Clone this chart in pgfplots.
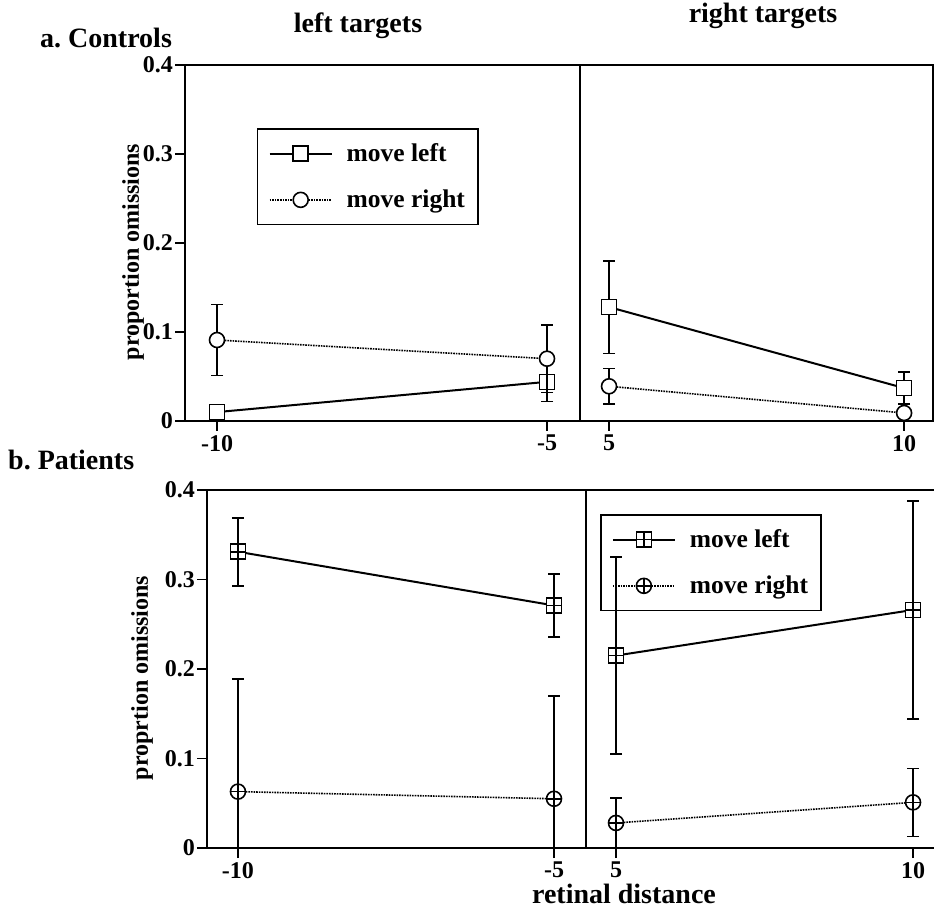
\documentclass[border=0pt]{standalone}
\usepackage{fontspec}
\setmainfont{Liberation Serif}
\usepackage{pgfplots}
\pgfplotsset{compat=1.18}

% boxed plus and circled plus, filled white
\pgfdeclareplotmark{sqplus}{%
  \pgfpathrectangle{\pgfqpoint{-\pgfplotmarksize}{-\pgfplotmarksize}}{\pgfqpoint{2\pgfplotmarksize}{2\pgfplotmarksize}}%
  \pgfusepathqfillstroke
  \pgfpathmoveto{\pgfqpoint{-\pgfplotmarksize}{0pt}}\pgfpathlineto{\pgfqpoint{\pgfplotmarksize}{0pt}}%
  \pgfpathmoveto{\pgfqpoint{0pt}{-\pgfplotmarksize}}\pgfpathlineto{\pgfqpoint{0pt}{\pgfplotmarksize}}%
  \pgfusepathqstroke}
\pgfdeclareplotmark{cplus}{%
  \pgfpathcircle{\pgfpointorigin}{\pgfplotmarksize}%
  \pgfusepathqfillstroke
  \pgfpathmoveto{\pgfqpoint{-\pgfplotmarksize}{0pt}}\pgfpathlineto{\pgfqpoint{\pgfplotmarksize}{0pt}}%
  \pgfpathmoveto{\pgfqpoint{0pt}{-\pgfplotmarksize}}\pgfpathlineto{\pgfqpoint{0pt}{\pgfplotmarksize}}%
  \pgfusepathqstroke}

\newcommand{\tickfont}{\fontsize{24}{28}\selectfont\bfseries}
\newcommand{\labfont}{\fontsize{24}{28}\selectfont\bfseries}
\newcommand{\legfont}{\fontsize{25.5}{28}\selectfont\bfseries}
\newcommand{\titfont}{\fontsize{28}{32}\selectfont\bfseries}

\pgfplotsset{
  panel/.style={
    scale only axis,
    ymin=0, ymax=0.4,
    axis line style={line width=2pt},
    tick style={line width=1.6pt, black},
    tick align=outside,
    major tick length=10pt,
    xtick pos=bottom, ytick pos=left,
    ticklabel style={font=\tickfont},
    xticklabel style={inner sep=4pt},
    yticklabel style={inner sep=2pt},
    clip marker paths=true,
    legend cell align=left,
    legend style={draw=black, fill=none, line width=1.6pt, font=\legfont,
      row sep=23pt, inner xsep=11pt, inner ysep=13pt,
      /tikz/every odd column/.append style={column sep=12pt}},
    legend image code/.code={%
      \draw[##1, mark repeat=2, mark phase=2]
        plot coordinates {(0pt,0pt) (31pt,0pt) (62pt,0pt)};},
  },
  errs/.style={
    error bars/.cd, y dir=both, y explicit,
    error bar style={line width=1.6pt, solid, black},
    error mark options={rotate=90, line width=1.6pt, mark size=6pt, solid, black},
  },
  mleft/.style={black, line width=2pt, mark=square*, mark size=7.5pt,
    mark options={fill=white, solid, line width=1.6pt}, errs},
  mright/.style={black, line width=1.6pt, densely dotted, mark=*, mark size=7.5pt,
    mark options={fill=white, solid, line width=1.6pt}, errs},
  pleft/.style={black, line width=2pt, mark=sqplus, mark size=7.5pt,
    mark options={fill=white, solid, line width=1.6pt}, errs},
  pright/.style={black, line width=1.6pt, densely dotted, mark=cplus, mark size=7.5pt,
    mark options={fill=white, solid, line width=1.6pt}, errs},
}

\begin{document}
\begin{tikzpicture}
\path[use as bounding box] (0pt,0pt) rectangle (934pt,911pt);

% ---- a. Controls, left targets
\begin{axis}[panel, at={(185pt,490pt)}, anchor=south west,
    width=395pt, height=356pt,
    xmin=-10.485, xmax=-4.5,
    xtick={-10,-5}, xticklabels={-10,-5},
    ytick={0,0.1,0.2,0.3,0.4}, yticklabels={0,0.1,0.2,0.3,0.4},
    legend style={at={(0.182,0.823)}, anchor=north west}]
\addplot[mleft] coordinates {(-10,0.010) +- (0,0.004) (-5,0.044) +- (0,0.022)};
\addplot[mright] coordinates {(-10,0.091) +- (0,0.040) (-5,0.070) +- (0,0.038)};
\legend{move left, move right}
\end{axis}

% ---- a. Controls, right targets
\begin{axis}[panel, at={(580pt,490pt)}, anchor=south west,
    width=353pt, height=356pt,
    xmin=4.508, xmax=10.49,
    xtick={5,10}, xticklabels={5,10}, ytick=\empty]
\addplot[mleft] coordinates {(5,0.128) +- (0,0.052) (10,0.037) +- (0,0.018)};
\addplot[mright] coordinates {(5,0.039) +- (0,0.020) (10,0.009) +- (0,0.006)};
\end{axis}

% ---- b. Patients, left targets
\begin{axis}[panel, at={(207pt,63pt)}, anchor=south west,
    width=379pt, height=358pt,
    xmin=-10.49, xmax=-4.494,
    xtick={-10,-5}, xticklabels={-10,-5},
    ytick={0,0.1,0.2,0.3,0.4}, yticklabels={0,0.1,0.2,0.3,0.4}]
\addplot[pleft] coordinates {(-10,0.331) +- (0,0.038) (-5,0.271) +- (0,0.035)};
\addplot[pright] coordinates {(-10,0.063) +- (0,0.126) (-5,0.055) +- (0,0.115)};
\end{axis}

% ---- b. Patients, right targets
\begin{axis}[panel, at={(586pt,63pt)}, anchor=south west,
    width=352pt, height=358pt,
    xmin=4.495, xmax=10.42,
    xtick={5,10}, xticklabels={5,10}, ytick=\empty,
    legend style={at={(0.040,0.933)}, anchor=north west}]
\addplot[pleft] coordinates {(5,0.215) +- (0,0.110) (10,0.266) +- (0,0.122)};
\addplot[pright] coordinates {(5,0.028) +- (0,0.028) (10,0.051) +- (0,0.038)};
\legend{move left, move right}
\end{axis}

% texts
\node[font=\titfont, anchor=base west, inner sep=0pt] at (40pt,863pt) {a.\ Controls};
\node[font=\titfont, anchor=base west, inner sep=0pt] at (8pt,441pt) {b.\ Patients};
\node[font=\titfont, anchor=base, inner sep=0pt] at (358pt,878pt) {left targets};
\node[font=\titfont, anchor=base, inner sep=0pt] at (763pt,888pt) {right targets};
\node[font=\titfont, anchor=base, inner sep=0pt] at (624pt,8pt) {retinal distance};
\node[font=\labfont, rotate=90, inner sep=0pt] at (133pt,659pt) {proportion omissions};
\node[font=\labfont, rotate=90, inner sep=0pt] at (142pt,233pt) {proprtion omissions};
\end{tikzpicture}
\end{document}
